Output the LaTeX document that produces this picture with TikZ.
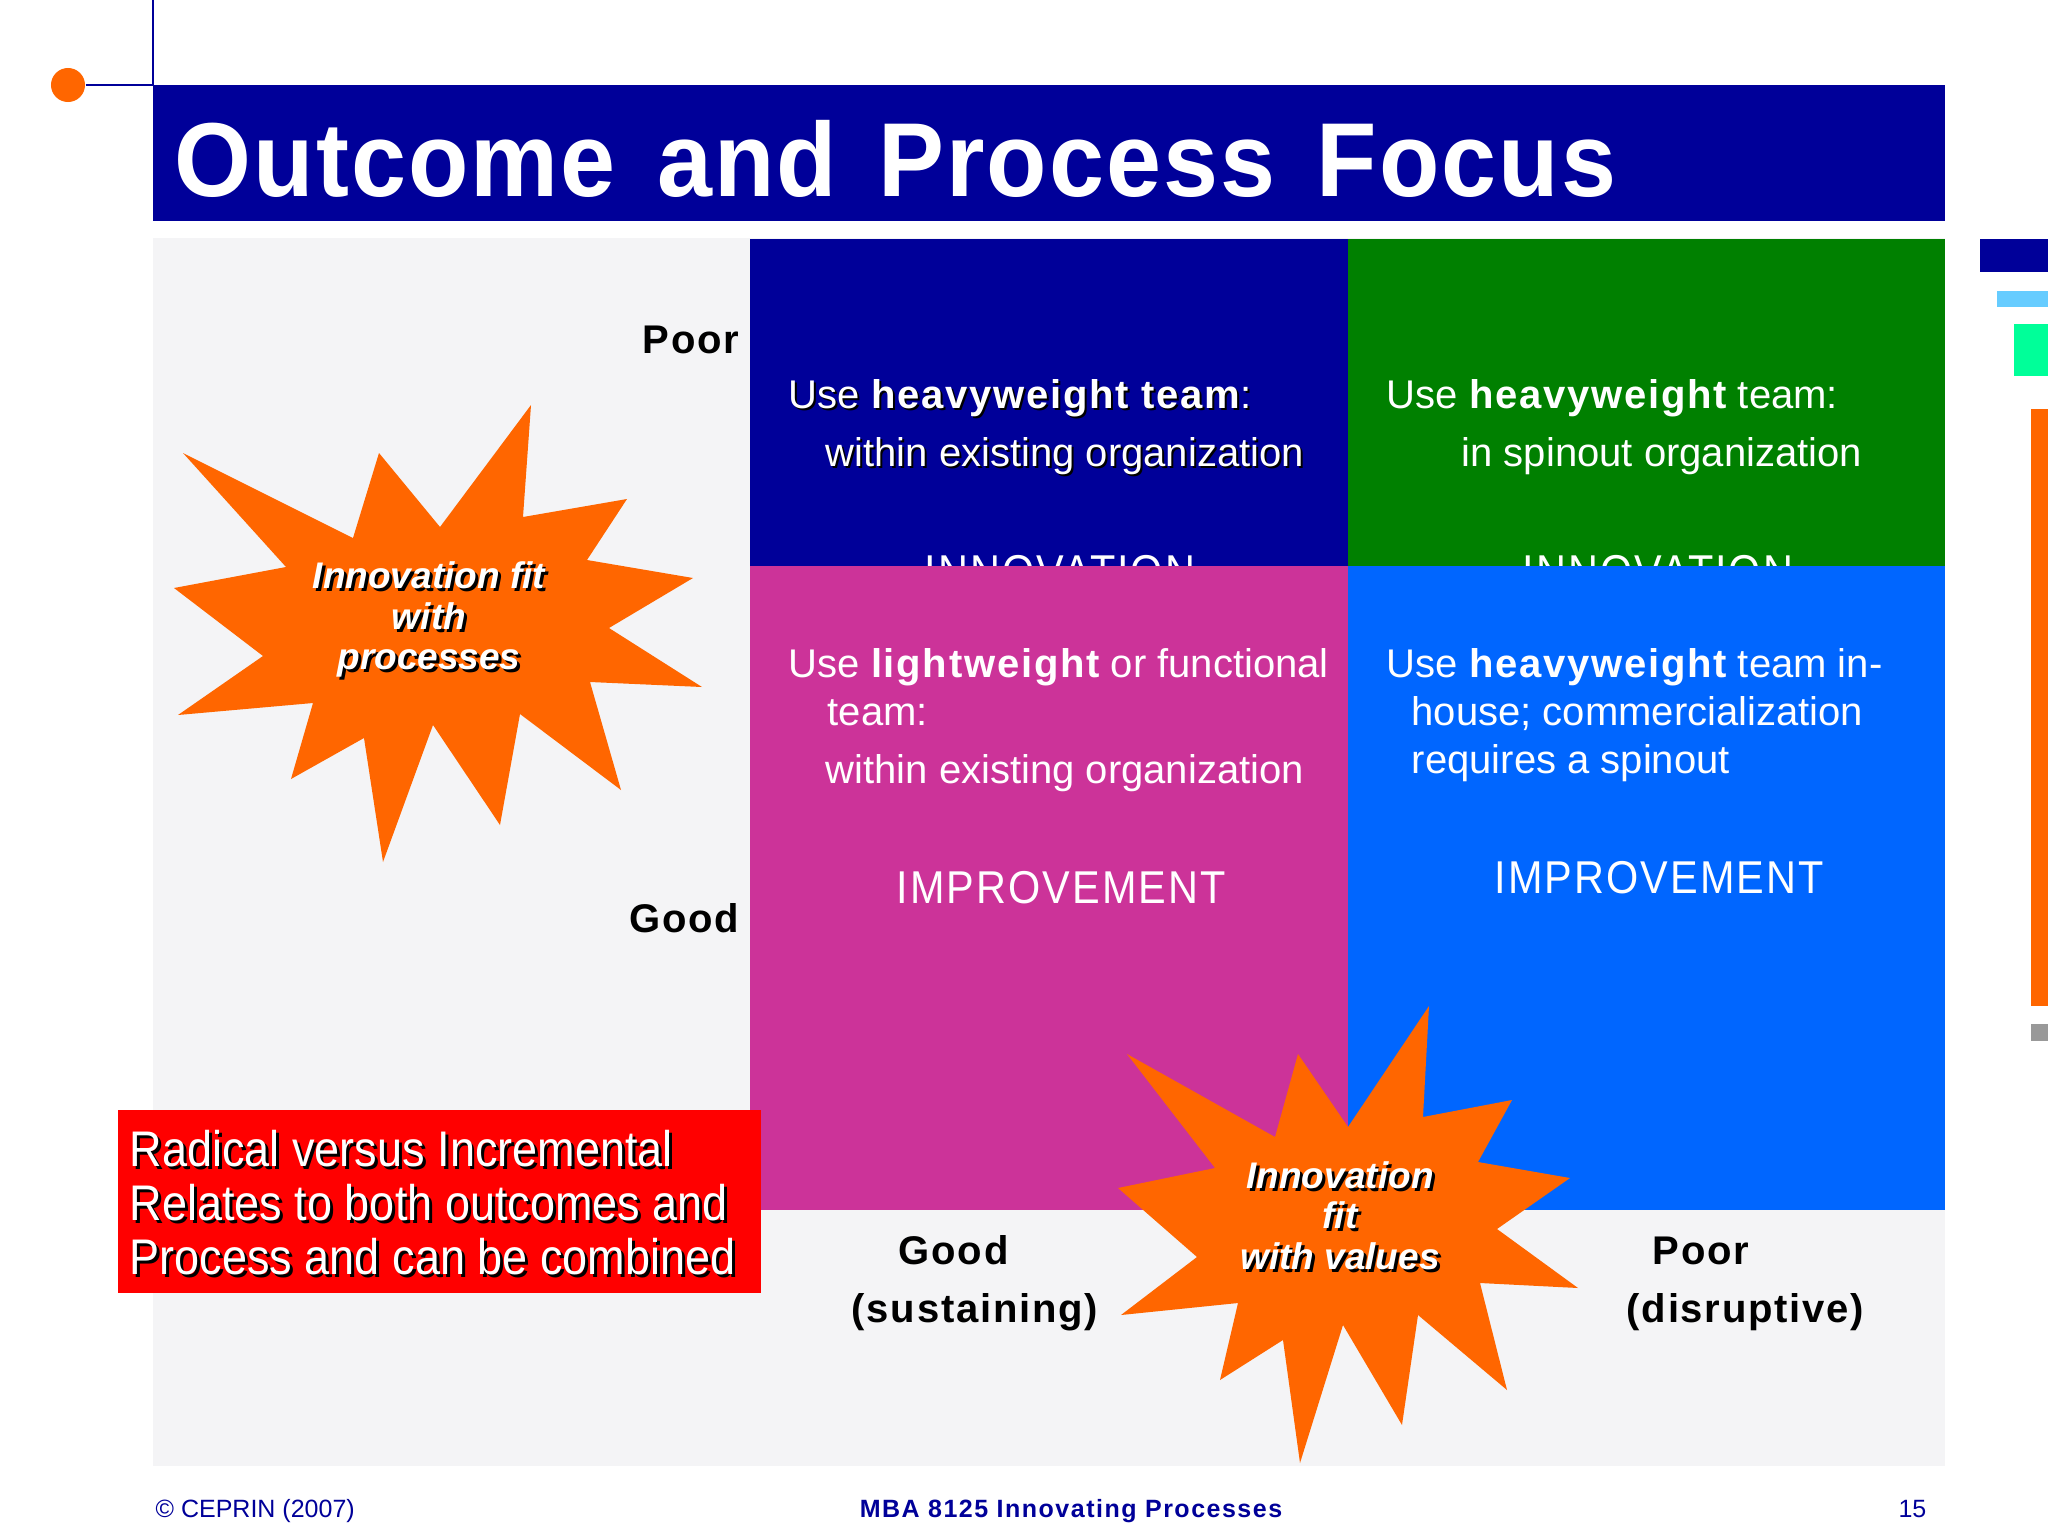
\documentclass[tikz,border=0pt]{standalone}
\usepackage{fontspec}
\setmainfont{Liberation Sans}
\newfontfamily\spacedfont[LetterSpace=4.4]{Liberation Sans}
\newfontfamily\widefont[LetterSpace=4.5,FakeStretch=0.9]{Liberation Sans}
\newfontfamily\footfont[LetterSpace=6]{Liberation Sans}
\newfontfamily\condfont[FakeStretch=0.9]{Liberation Sans}
\newfontfamily\titlefont[LetterSpace=2,FakeStretch=0.94,WordSpace=1.4]{Liberation Sans}
\usetikzlibrary{positioning}

\definecolor{navy}{RGB}{0,0,153}
\definecolor{leafgreen}{RGB}{0,128,0}
\definecolor{plum}{RGB}{204,51,153}
\definecolor{brightblue}{RGB}{0,102,255}
\definecolor{burstorange}{RGB}{255,102,0}
\definecolor{panelgrey}{RGB}{244,244,246}
\definecolor{skyblue}{RGB}{102,204,255}
\definecolor{mint}{RGB}{0,255,153}
\definecolor{midgrey}{RGB}{153,153,153}

\newcommand{\shadowed}[2][0.85pt]{\leavevmode\rlap{\hspace*{#1}\raisebox{-#1}{\color{black}#2}}#2}

\begin{document}
\begin{tikzpicture}[x=0.01cm,y=-0.01cm,
    qtext/.style={text=white,inner sep=0pt,anchor=north west,align=left,
      font=\fontsize{11.38}{13.66}\selectfont},
    bigword/.style={text=white,inner sep=0pt,anchor=base,
      font=\widefont\fontsize{13.09}{15}\selectfont},
    axis/.style={inner sep=0pt,font=\spacedfont\bfseries\fontsize{11.38}{13.66}\selectfont},
    bursttext/.style={text=white,inner sep=0pt,align=center,
      font=\bfseries\itshape\fontsize{10.53}{11.52}\selectfont},
    foot/.style={text=navy,inner sep=0pt,anchor=base,font=\fontsize{7.11}{8.5}\selectfont},
    burst/.style={fill=burstorange}]
  \useasboundingbox (0,0) rectangle (2048,1536);
  \fill[white] (0,0) rectangle (2048,1536);

  % slide frame
  \fill[panelgrey] (153,238) rectangle (1945,1466);
  \fill[navy] (153,85) rectangle (1945,221);
  \node[circle,fill=burstorange,minimum size=0.34cm,inner sep=0pt] (dot) at (68,85) {};
  \coordinate (corner) at (153,85);
  \coordinate (topedge) at (153,0);
  \draw[navy,line width=0.6pt] (dot) -- (corner) -- (topedge);
  \node[anchor=base west,inner sep=0pt,text=white,font=\titlefont\bfseries\fontsize{29.9}{32}\selectfont]
    (title) at (174,196) {Outcome and Process Focus};

  % side bars
  \fill[navy] (1980,239) rectangle (2048,272);
  \fill[skyblue] (1997,291) rectangle (2048,307);
  \fill[mint] (2014,324) rectangle (2048,376);
  \fill[burstorange] (2031,409) rectangle (2048,1006);
  \fill[midgrey] (2031,1024) rectangle (2048,1041);

  % upper quadrants
  \fill[navy] (750,239) rectangle (1348,566);
  \fill[leafgreen] (1348,239) rectangle (1945,566);
  \node[bigword] (innovA) at (1060,587) {INNOVATION};
  \node[bigword] (innovB) at (1658,587) {INNOVATION};

  % lower quadrants
  \fill[plum] (750,566) rectangle (1348,1210);
  \fill[brightblue] (1348,566) rectangle (1945,1210);

  \node[qtext] (q1top) at (788,374.4)
    {\shadowed[0.57pt]{\strut Use {\spacedfont\bfseries heavyweight team}:}};
  \node[qtext] (q1bot) at (825,432.4)
    {\shadowed[0.57pt]{\strut within existing organization}};
  \node[qtext] (q2top) at (1386,374.4)
    {\strut Use {\spacedfont\bfseries heavyweight} team:};
  \node[qtext] (q2bot) at (1461,432.4) {\strut in spinout organization};
  \node[qtext] (q3top) at (788,643.4)
    {\strut Use {\spacedfont\bfseries lightweight} or functional\\\hspace*{0.39cm}team:};
  \node[qtext] (q3bot) at (825,749.4) {\strut within existing organization};
  \node[qtext] (q4top) at (1386,643.4)
    {\strut Use {\spacedfont\bfseries heavyweight} team in-\\\hspace*{0.25cm}house; commercialization\\\hspace*{0.25cm}requires a spinout};
  \node[bigword] (improvA) at (1061,903) {IMPROVEMENT};
  \node[bigword] (improvB) at (1659,893) {IMPROVEMENT};

  % axis labels
  \node[axis,anchor=base east] (poorY) at (740,353) {Poor};
  \node[axis,anchor=base east] (goodY) at (740,932) {Good};
  \node[axis,anchor=base west] (goodX) at (898,1264) {Good};
  \node[axis,anchor=base west] (sustX) at (851,1322) {(sustaining)};
  \node[axis,anchor=base west] (poorX) at (1652,1264) {Poor};
  \node[axis,anchor=base west] (disrX) at (1626,1322) {(disruptive)};

  % starbursts
  \fill[burst] (531,405) -- (523,517) -- (627,499) -- (587,560) -- (693,578) -- (609,628)
    -- (702,687) -- (590,682) -- (621,790) -- (520,714) -- (500,825) -- (433,725)
    -- (383,862) -- (364,738) -- (291,779) -- (313,703) -- (178,715) -- (263,656)
    -- (174,588) -- (286,567) -- (183,453) -- (353,538) -- (379,453) -- (440,527) -- cycle;
  \node[bursttext] (fitproc) at (429,621)
    {\shadowed{Innovation fit}\\\shadowed{with}\\\shadowed{processes}};

  \fill[burst] (1429,1006) -- (1423,1117) -- (1512,1100) -- (1478,1162) -- (1570,1178) -- (1497,1229)
    -- (1578,1288) -- (1480,1283) -- (1507,1390) -- (1418,1315) -- (1402,1425) -- (1343,1325)
    -- (1300,1463) -- (1283,1340) -- (1220,1380) -- (1238,1303) -- (1121,1315) -- (1197,1257)
    -- (1118,1188) -- (1215,1168) -- (1127,1054) -- (1275,1137) -- (1298,1054) -- (1348,1127) -- cycle;
  \node[bursttext] (fitval) at (1340,1217)
    {\shadowed{Innovation}\\\shadowed{fit}\\\shadowed{with values}};

  % note box
  \fill[red] (118,1110) rectangle (761,1293);
  \node[text=white,inner sep=0pt,anchor=north west,align=left,
    font=\condfont\fontsize{14.23}{15.36}\selectfont] (radical) at (129,1128)
    {\strut\shadowed{Radical versus Incremental}\\\shadowed{Relates to both outcomes and}\\\shadowed{Process and can be combined}};

  % footer
  \node[foot,anchor=base west] (copy) at (155,1517) {\textcopyright{} CEPRIN (2007)};
  \node[foot,font=\footfont\bfseries\fontsize{7.11}{8.5}\selectfont] (course) at (1071,1517)
    {MBA 8125 Innovating Processes};
  \node[foot,anchor=base east] (page) at (1927,1517) {15};
\end{tikzpicture}
\end{document}
